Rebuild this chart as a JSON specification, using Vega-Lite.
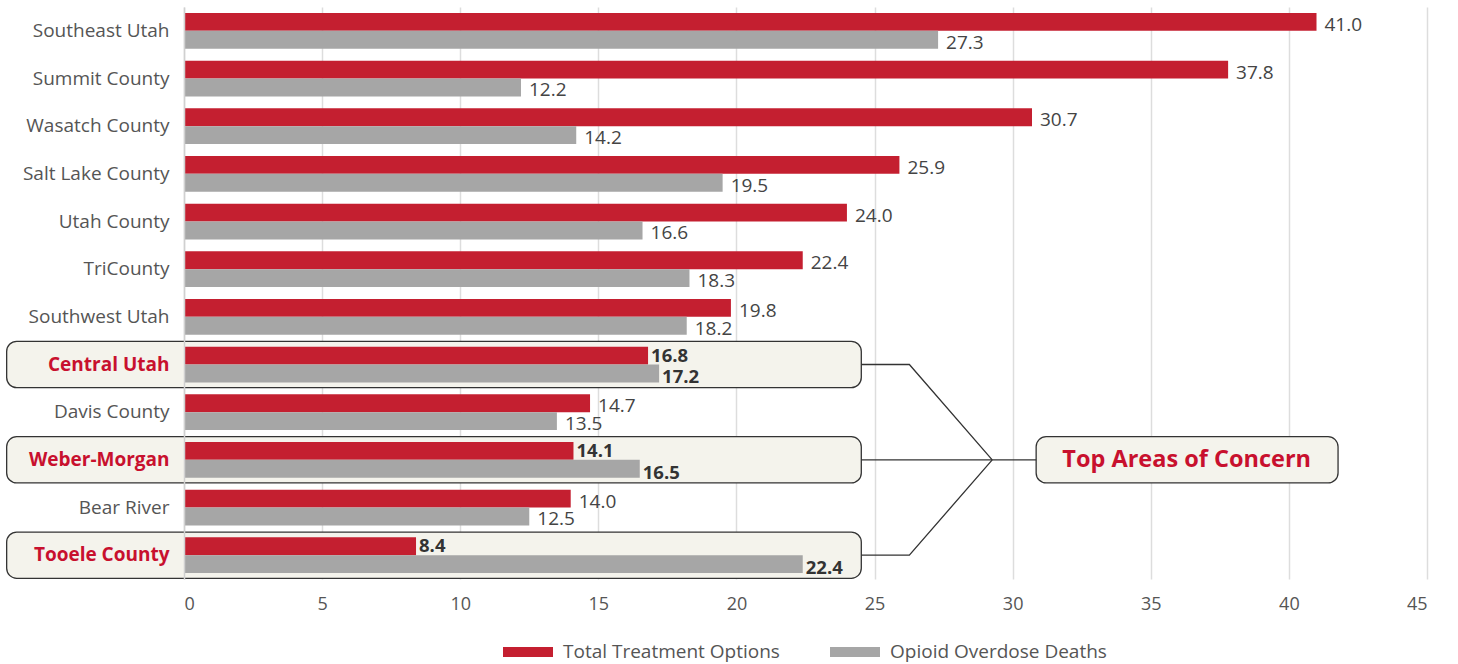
{
  "$schema": "https://vega.github.io/schema/vega-lite/v6.json",
  "width": 1243,
  "height": 572,
  "autosize": {"type": "none"},
  "padding": {"left": 184, "top": 7, "right": 31, "bottom": 85},
  "config": {
    "view": {"stroke": null},
    "font": "Open Sans"
  },
  "datasets": {
    "bars": [
      {"region": "Southeast Utah", "series": "Total Treatment Options", "value": 41.0, "hl": false},
      {"region": "Southeast Utah", "series": "Opioid Overdose Deaths", "value": 27.3, "hl": false},
      {"region": "Summit County", "series": "Total Treatment Options", "value": 37.8, "hl": false},
      {"region": "Summit County", "series": "Opioid Overdose Deaths", "value": 12.2, "hl": false},
      {"region": "Wasatch County", "series": "Total Treatment Options", "value": 30.7, "hl": false},
      {"region": "Wasatch County", "series": "Opioid Overdose Deaths", "value": 14.2, "hl": false},
      {"region": "Salt Lake County", "series": "Total Treatment Options", "value": 25.9, "hl": false},
      {"region": "Salt Lake County", "series": "Opioid Overdose Deaths", "value": 19.5, "hl": false},
      {"region": "Utah County", "series": "Total Treatment Options", "value": 24.0, "hl": false},
      {"region": "Utah County", "series": "Opioid Overdose Deaths", "value": 16.6, "hl": false},
      {"region": "TriCounty", "series": "Total Treatment Options", "value": 22.4, "hl": false},
      {"region": "TriCounty", "series": "Opioid Overdose Deaths", "value": 18.3, "hl": false},
      {"region": "Southwest Utah", "series": "Total Treatment Options", "value": 19.8, "hl": false},
      {"region": "Southwest Utah", "series": "Opioid Overdose Deaths", "value": 18.2, "hl": false},
      {"region": "Central Utah", "series": "Total Treatment Options", "value": 16.8, "hl": true},
      {"region": "Central Utah", "series": "Opioid Overdose Deaths", "value": 17.2, "hl": true},
      {"region": "Davis County", "series": "Total Treatment Options", "value": 14.7, "hl": false},
      {"region": "Davis County", "series": "Opioid Overdose Deaths", "value": 13.5, "hl": false},
      {"region": "Weber-Morgan", "series": "Total Treatment Options", "value": 14.1, "hl": true},
      {"region": "Weber-Morgan", "series": "Opioid Overdose Deaths", "value": 16.5, "hl": true},
      {"region": "Bear River", "series": "Total Treatment Options", "value": 14.0, "hl": false},
      {"region": "Bear River", "series": "Opioid Overdose Deaths", "value": 12.5, "hl": false},
      {"region": "Tooele County", "series": "Total Treatment Options", "value": 8.4, "hl": true},
      {"region": "Tooele County", "series": "Opioid Overdose Deaths", "value": 22.4, "hl": true}
    ],
    "boxes": [
      {"region": "Central Utah", "x": -6.42, "x2": 24.52},
      {"region": "Weber-Morgan", "x": -6.42, "x2": 24.52},
      {"region": "Tooele County", "x": -6.42, "x2": 24.52},
      {"region": "Weber-Morgan", "x": 30.85, "x2": 41.78}
    ],
    "callout": [
      {"region": "Weber-Morgan", "x": 36.3, "label": "Top Areas of Concern"}
    ],
    "links": [
      {"path": 1, "ord": 1, "region": "Central Utah", "x": 24.52},
      {"path": 1, "ord": 2, "region": "Central Utah", "x": 26.26},
      {"path": 1, "ord": 3, "region": "Weber-Morgan", "x": 29.26},
      {"path": 2, "ord": 1, "region": "Weber-Morgan", "x": 24.52},
      {"path": 2, "ord": 2, "region": "Weber-Morgan", "x": 30.85},
      {"path": 3, "ord": 1, "region": "Tooele County", "x": 24.52},
      {"path": 3, "ord": 2, "region": "Tooele County", "x": 26.26},
      {"path": 3, "ord": 3, "region": "Weber-Morgan", "x": 29.26}
    ]
  },
  "resolve": {"scale": {"y": "independent"}},
  "layer": [
    {
      "data": {"name": "boxes"},
      "mark": {"type": "rect", "cornerRadius": 10, "fill": "#f4f3ec", "stroke": "#333333", "strokeWidth": 1.3},
      "encoding": {
        "y": {
          "field": "region", "type": "nominal",
          "scale": {
            "domain": ["Southeast Utah", "Summit County", "Wasatch County", "Salt Lake County", "Utah County", "TriCounty", "Southwest Utah", "Central Utah", "Davis County", "Weber-Morgan", "Bear River", "Tooele County"],
            "paddingInner": 0.03, "paddingOuter": 0.015
          },
          "axis": null
        },
        "x": {"field": "x", "type": "quantitative", "scale": {"domain": [0, 45], "nice": false}},
        "x2": {"field": "x2"}
      }
    },
    {
      "encoding": {
        "y": {
          "field": "region", "type": "nominal",
          "scale": {
            "domain": ["Southeast Utah", "Summit County", "Wasatch County", "Salt Lake County", "Utah County", "TriCounty", "Southwest Utah", "Central Utah", "Davis County", "Weber-Morgan", "Bear River", "Tooele County"],
            "paddingInner": 0.25, "paddingOuter": 0.125
          },
          "axis": {
            "title": null,
            "zindex": 1,
            "ticks": false,
            "domain": true,
            "domainColor": "#d0d0d0",
            "domainWidth": 1.5,
            "labelFontSize": 19,
            "labelPadding": 15,
            "labelLimit": 300,
            "labelColor": {"condition": {"test": "indexof(['Central Utah','Weber-Morgan','Tooele County'], datum.value) >= 0", "value": "#c8102e"}, "value": "#555555"},
            "labelFontWeight": {"condition": {"test": "indexof(['Central Utah','Weber-Morgan','Tooele County'], datum.value) >= 0", "value": "bold"}, "value": "normal"}
          }
        }
      },
      "layer": [
        {
          "data": {"name": "bars"},
          "mark": {"type": "bar"},
          "encoding": {
            "x": {
              "field": "value", "type": "quantitative",
              "scale": {"domain": [0, 45], "nice": false},
              "axis": {
                "title": null,
                "values": [0, 5, 10, 15, 20, 25, 30, 35, 40, 45],
                "grid": true,
                "gridColor": "#dddddd",
                "gridWidth": 1.5,
                "domain": false,
                "ticks": false,
                "labelFontSize": 18,
                "labelColor": "#555555",
                "labelPadding": 16
              }
            },
            "yOffset": {"field": "series", "type": "nominal", "scale": {"domain": ["Total Treatment Options", "Opioid Overdose Deaths"], "paddingInner": 0}},
            "color": {
              "field": "series", "type": "nominal",
              "scale": {"domain": ["Total Treatment Options", "Opioid Overdose Deaths"], "range": ["#c41f30", "#a6a6a6"]},
              "legend": {
                "title": null,
                "orient": "none",
                "legendX": 319,
                "legendY": 620,
                "direction": "horizontal",
                "symbolType": "M-1,-0.2H1V0.2H-1Z",
                "symbolSize": 2500,
                "symbolStrokeWidth": 0,
                "labelFontSize": 19,
                "labelLimit": 400,
                "labelColor": "#555555",
                "labelOffset": 10,
                "columnPadding": 50
              }
            }
          }
        },
        {
          "data": {"name": "bars"},
          "transform": [{"filter": "!datum.hl"}],
          "mark": {"type": "text", "align": "left", "baseline": "middle", "dx": 8, "dy": 3, "fontSize": 19, "color": "#444444"},
          "encoding": {
            "x": {"field": "value", "type": "quantitative"},
            "yOffset": {"field": "series", "type": "nominal", "scale": {"domain": ["Total Treatment Options", "Opioid Overdose Deaths"], "paddingInner": 0}},
            "text": {"field": "value", "type": "quantitative", "format": ".1f"}
          }
        },
        {
          "data": {"name": "bars"},
          "transform": [{"filter": "datum.hl && datum.series == 'Total Treatment Options'"}],
          "mark": {"type": "text", "align": "left", "baseline": "middle", "dx": 3, "dy": 0, "fontSize": 18.5, "fontWeight": "bold", "color": "#333333"},
          "encoding": {
            "x": {"field": "value", "type": "quantitative"},
            "yOffset": {"field": "series", "type": "nominal", "scale": {"domain": ["Total Treatment Options", "Opioid Overdose Deaths"], "paddingInner": 0}},
            "text": {"field": "value", "type": "quantitative", "format": ".1f"}
          }
        },
        {
          "data": {"name": "bars"},
          "transform": [{"filter": "datum.hl && datum.series == 'Opioid Overdose Deaths'"}],
          "mark": {"type": "text", "align": "left", "baseline": "middle", "dx": 3, "dy": 4, "fontSize": 18.5, "fontWeight": "bold", "color": "#333333"},
          "encoding": {
            "x": {"field": "value", "type": "quantitative"},
            "yOffset": {"field": "series", "type": "nominal", "scale": {"domain": ["Total Treatment Options", "Opioid Overdose Deaths"], "paddingInner": 0}},
            "text": {"field": "value", "type": "quantitative", "format": ".1f"}
          }
        },
        {
          "data": {"name": "links"},
          "mark": {"type": "line", "color": "#333333", "strokeWidth": 1.3},
          "encoding": {
            "x": {"field": "x", "type": "quantitative"},
            "detail": {"field": "path", "type": "nominal"},
            "order": {"field": "ord", "type": "quantitative"}
          }
        },
        {
          "data": {"name": "callout"},
          "mark": {"type": "text", "align": "center", "baseline": "middle", "fontSize": 23.5, "fontWeight": "bold", "color": "#c8102e"},
          "encoding": {
            "x": {"field": "x", "type": "quantitative"},
            "text": {"field": "label", "type": "nominal"}
          }
        }
      ]
    }
  ]
}
